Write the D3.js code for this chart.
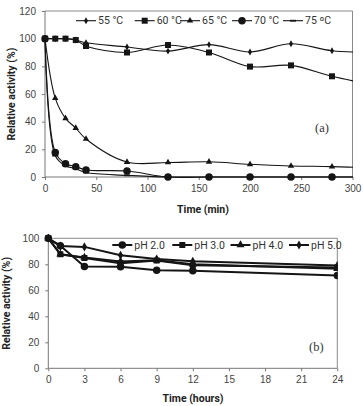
<!DOCTYPE html>
<html>
<head>
<meta charset="utf-8">
<script src="https://cdn.jsdelivr.net/npm/d3@7/dist/d3.min.js"></script>
<style>
  body { margin: 0; background: #fff; }
  svg { display: block; font-family: Roboto, "Liberation Sans", sans-serif; }
  .tick text { fill: #444; font-size: 10px; }
  .axis path, .axis line { stroke: #777; }
  .title { font-weight: bold; font-size: 10.5px; fill: #222; }
  .legend text { font-size: 10.5px; fill: #333; }
  .panel-label { font-family: "Liberation Serif", "DejaVu Serif", serif; font-size: 12.5px; fill: #333; }
</style>
</head>
<body>
<div id="chart"></div>
<script>
const width = 364
const height = 406

// panel (a): thermal stability, time in minutes
const tempTimes = [0, 10, 20, 30, 40, 80, 120, 160, 200, 240, 280, 320]
const temp55 = [100, 100, 100, 99, 97, 94, 91, 95.7, 90.4, 96.3, 91.3, 90]
const temp60 = [100, 100, 100, 99, 94.7, 90, 95.4, 90, 79.8, 80.7, 72.8, 66.5]
const temp65 = [100, 57, 42.4, 35.4, 27.5, 10.8, 10.5, 11, 9.2, 8, 7.5, 6.5]
const temp70 = [100, 17.8, 9.6, 7.5, 5.1, 4.3, 0, 0, 0, 0, 0, 0]
const temp75 = [100, 15.4, 8.2, 6, 3.2, 1.2, 0, 0, 0, 0, 0, 0]
const tempLabels = ["55 °C", "60 °C", "65 °C", "70 °C", "75 ºC"]
const tempXTicks = [0, 50, 100, 150, 200, 250, 300]
const tempYTicks = [0, 20, 40, 60, 80, 100, 120]

// panel (b): pH stability, time in hours
const phTimes = [0, 1, 3, 6, 9, 12, 24]
const ph20 = [100, 94.3, 78.3, 78.2, 75.4, 75, 71.3]
const ph30 = [100, 87.8, 84.8, 80.8, 83, 79.2, 77.6]
const ph40 = [100, 87.8, 85.3, 82.2, 83.2, 80, 76.6]
const ph50 = [100, 94, 93.4, 87, 84, 82.3, 79]
const phLabels = ["pH 2.0", "pH 3.0", "pH 4.0", "pH 5.0"]
const phXTicks = [0, 3, 6, 9, 12, 15, 18, 21, 24]
const phYTicks = [0, 20, 40, 60, 80, 100]

const svg = d3.select("#chart")
    .append("svg")
    .attr("width", width)
    .attr("height", height)

svg.append("rect").attr("width", width).attr("height", height).attr("fill", "#fff")

const lineColor = "#151515"

function markerPath(shape, size) {
    if (shape == "dash") return "M-3,-0.9H3V0.9H-3Z"
    const types = { diamond: d3.symbolDiamond, square: d3.symbolSquare, triangle: d3.symbolTriangle, circle: d3.symbolCircle }
    return d3.symbol().type(types[shape]).size(size)()
}

function drawPanel(cfg) {
    const x = d3.scaleLinear().domain(cfg.xDomain).range([cfg.left, cfg.right])
    const y = d3.scaleLinear().domain(cfg.yDomain).range([cfg.bottom, cfg.top])
    const g = svg.append("g")

    // frame (top + right)
    g.append("path")
        .attr("d", `M${cfg.left},${cfg.top}H${cfg.right}V${cfg.bottom}`)
        .attr("fill", "none")
        .attr("stroke", "#8a8a8a")
        .attr("stroke-width", 1)

    g.append("g")
        .attr("class", "axis")
        .attr("transform", `translate(0,${cfg.bottom})`)
        .call(d3.axisBottom(x).tickValues(cfg.xTicks).tickSize(3).tickPadding(5))
        .call(a => a.select(".domain").attr("d", `M${cfg.left},0H${cfg.right}`))
    g.append("g")
        .attr("class", "axis")
        .attr("transform", `translate(${cfg.left},0)`)
        .call(d3.axisLeft(y).tickValues(cfg.yTicks).tickSize(3).tickPadding(6))
        .call(a => a.select(".domain").attr("d", `M0,${cfg.top}V${cfg.bottom}`))

    const clipId = "clip-" + cfg.name
    svg.append("clipPath").attr("id", clipId)
        .append("rect")
        .attr("x", cfg.left - 6).attr("y", cfg.top - 6)
        .attr("width", cfg.right - cfg.left + 6.5)
        .attr("height", cfg.bottom - cfg.top + 12)

    const plot = g.append("g").attr("clip-path", `url(#${clipId})`)
    const line = d3.line()
        .x(d => x(d[0]))
        .y(d => y(d[1]))
        .curve(cfg.curve)

    cfg.series.forEach(s => {
        const pts = cfg.times.map((t, i) => [t, s.values[i]])
        plot.append("path")
            .datum(pts)
            .attr("fill", "none")
            .attr("stroke", lineColor)
            .attr("stroke-width", cfg.lineWidth)
            .attr("stroke-linejoin", "round")
            .attr("d", line)
        plot.selectAll(null)
            .data(pts.filter(p => p[0] <= cfg.xDomain[1]))
            .join("path")
            .attr("transform", d => `translate(${x(d[0])},${y(d[1])})`)
            .attr("d", markerPath(s.shape, s.size))
            .attr("fill", lineColor)
    })

    // legend
    const lg = g.append("g").attr("class", "legend")
    cfg.series.forEach((s, i) => {
        const cx = cfg.legendX[i]
        const ly = cfg.legendY
        lg.append("line")
            .attr("x1", cx - 10).attr("x2", cx + 10)
            .attr("y1", ly).attr("y2", ly)
            .attr("stroke", lineColor)
            .attr("stroke-width", cfg.lineWidth)
        lg.append("path")
            .attr("transform", `translate(${cx},${ly})`)
            .attr("d", markerPath(s.shape, s.size))
            .attr("fill", lineColor)
        lg.append("text")
            .attr("x", cx + 12)
            .attr("y", ly + 3.6)
            .text(s.label)
    })

    g.append("text")
        .attr("class", "title")
        .attr("text-anchor", "middle")
        .attr("x", cfg.xTitleX)
        .attr("y", cfg.xTitleY)
        .text(cfg.xTitle)
    g.append("text")
        .attr("class", "title")
        .attr("text-anchor", "middle")
        .attr("transform", `translate(${cfg.yTitleX},${(cfg.top + cfg.bottom) / 2}) rotate(-90)`)
        .text("Relative activity (%)")
    g.append("text")
        .attr("class", "panel-label")
        .attr("x", cfg.tagX)
        .attr("y", cfg.tagY)
        .text(cfg.tag)
}

drawPanel({
    name: "a",
    left: 45, right: 352.5, top: 11, bottom: 177,
    xDomain: [0, 300], yDomain: [0, 120],
    xTicks: tempXTicks, yTicks: tempYTicks,
    times: tempTimes,
    curve: d3.curveCatmullRom.alpha(0.5),
    lineWidth: 1.1,
    series: [
        { label: tempLabels[0], values: temp55, shape: "diamond", size: 14 },
        { label: tempLabels[1], values: temp60, shape: "square", size: 36 },
        { label: tempLabels[2], values: temp65, shape: "triangle", size: 18 },
        { label: tempLabels[3], values: temp70, shape: "circle", size: 44 },
        { label: tempLabels[4], values: temp75, shape: "dash", size: 0 }
    ],
    legendX: [86, 144.7, 190, 242, 293],
    legendY: 20.7,
    xTitle: "Time (min)", xTitleX: 203, xTitleY: 213,
    yTitleX: 15,
    tag: "(a)", tagX: 315, tagY: 132
})

drawPanel({
    name: "b",
    left: 48.3, right: 337.3, top: 238.3, bottom: 368.3,
    xDomain: [0, 24], yDomain: [0, 100],
    xTicks: phXTicks, yTicks: phYTicks,
    times: phTimes,
    curve: d3.curveLinear,
    lineWidth: 2,
    series: [
        { label: phLabels[0], values: ph20, shape: "circle", size: 44 },
        { label: phLabels[1], values: ph30, shape: "square", size: 36 },
        { label: phLabels[2], values: ph40, shape: "triangle", size: 28 },
        { label: phLabels[3], values: ph50, shape: "diamond", size: 24 }
    ],
    legendX: [122.3, 182.3, 240.5, 299],
    legendY: 245,
    xTitle: "Time (hours)", xTitleX: 193, xTitleY: 402,
    yTitleX: 10,
    tag: "(b)", tagX: 309, tagY: 351
})
</script>
</body>
</html>
